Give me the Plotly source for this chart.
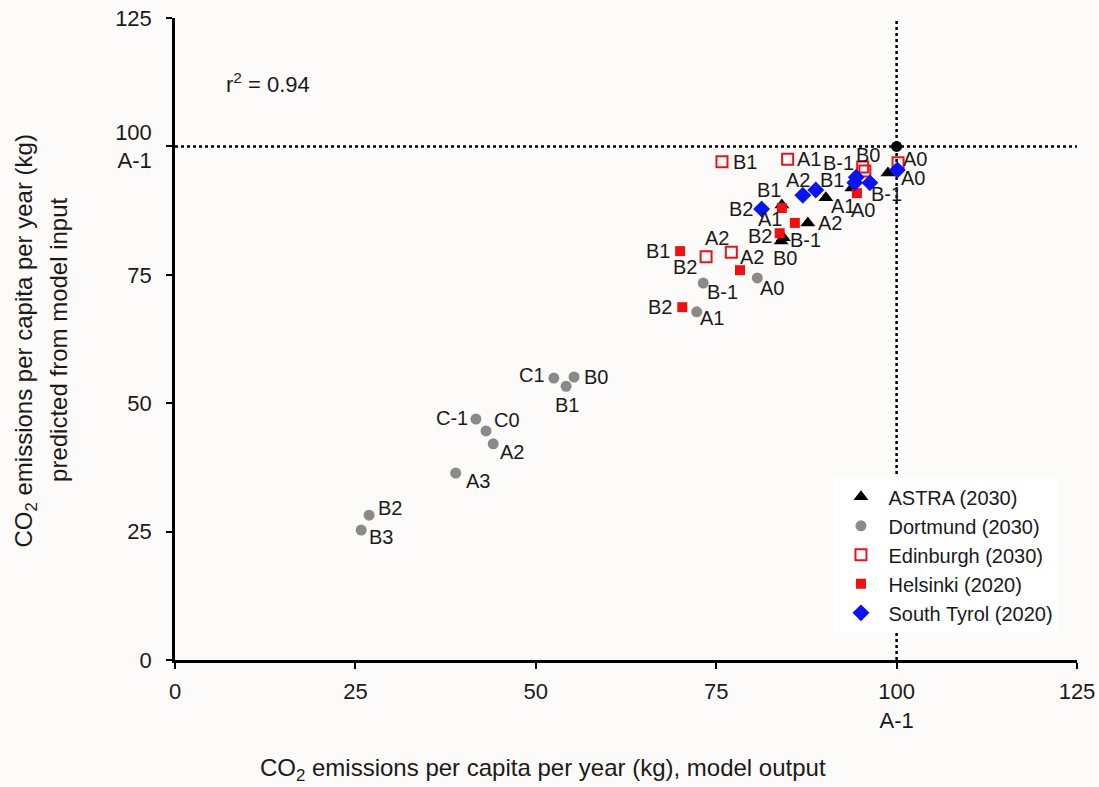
import plotly.graph_objects as go

# ---------------- data ----------------
astra_labels = ["A0", "A1", "A2", "B1", "B-1", "B0", ""]
astra_x = [98.8, 90.2, 87.7, 84.1, 84.3, 84.0, 93.8]
astra_y = [94.8, 90.0, 85.1, 88.6, 82.2, 81.6, 91.9]

dortmund_labels = ["B3", "B2", "A3", "C-1", "C0", "A2", "C1", "B0", "B1", "B-1", "A0", "A1"]
dortmund_x = [25.8, 26.9, 38.9, 41.7, 43.1, 44.1, 52.5, 55.3, 54.2, 73.2, 80.7, 72.3]
dortmund_y = [25.3, 28.2, 36.4, 46.9, 44.6, 42.1, 54.9, 55.1, 53.3, 73.4, 74.4, 67.8]

edinburgh_labels = ["B1", "A1", "B0", "B-1", "A0", "B2", "A2"]
edinburgh_x = [75.8, 84.9, 95.3, 95.6, 100.2, 73.6, 77.1]
edinburgh_y = [97.0, 97.5, 96.0, 95.2, 96.8, 78.5, 79.4]

helsinki_labels = ["B2", "B1", "A2", "B2", "A1", "", "A0"]
helsinki_x = [70.3, 70.0, 78.3, 83.8, 84.1, 85.9, 94.5]
helsinki_y = [68.7, 79.6, 75.9, 83.1, 88.0, 85.1, 90.9]

tyrol_labels = ["B2", "A2", "B1", "", "", "B-1", ""]
tyrol_x = [81.3, 87.0, 88.8, 94.4, 94.2, 96.3, 100.1]
tyrol_y = [87.8, 90.5, 91.5, 94.0, 92.9, 92.9, 95.4]

# reference scenario A-1 (100 % on both axes)
ref_label = "A-1"
ref_x = [100.0]
ref_y = [100.0]

tick_vals = [0, 25, 50, 75, 100, 125]
x_tick_text = ["0", "25", "50", "75", "100<br>A-1", "125"]
y_tick_text = ["0", "25", "50", "75", "100<br>A-1", "125"]
r_squared = 0.94

# ---------------- label placement (screen px: dx right, dy down) ----------------
offsets = {
    "ASTRA": [(25, 5), (17, 8), (22, 0), (-13, -15), (22, 2), (4, 17), (0, 0)],
    "Dortmund": [(20, 7), (21, -7), (22, 8), (-24, -1), (21, -11), (19, 8),
                 (-22, -3), (22, 0), (1, 19), (19, 9), (15, 10), (15, 6)],
    "Edinburgh": [(23, 0), (21, 0), (5, -12), (-26, -8), (17, -4), (-21, 10), (-14, -14)],
    "Helsinki": [(-22, 0), (-22, 0), (12, -13), (-20, 3), (-12, 11), (0, 0), (6, 17)],
    "Tyrol": [(-21, 0), (-5, -15), (16, -10), (0, 0), (0, 0), (17, 11), (0, 0)],
}

FONT = "Liberation Sans, Arial, Helvetica, sans-serif"
TXT = "#1a1a1a"
BG = "#fdfbf9"

fig = go.Figure()

series = [
    ("ASTRA (2030)", "ASTRA", astra_x, astra_y, astra_labels,
     dict(symbol="triangle-up", size=13, color="black")),
    ("Dortmund (2030)", "Dortmund", dortmund_x, dortmund_y, dortmund_labels,
     dict(symbol="circle", size=11, color="#8a8a8a")),
    ("Edinburgh (2030)", "Edinburgh", edinburgh_x, edinburgh_y, edinburgh_labels,
     dict(symbol="square-open", size=11, color="#e8141c", line=dict(width=2, color="#e8141c"))),
    ("Helsinki (2020)", "Helsinki", helsinki_x, helsinki_y, helsinki_labels,
     dict(symbol="square", size=10, color="#f01010")),
    ("South Tyrol (2020)", "Tyrol", tyrol_x, tyrol_y, tyrol_labels,
     dict(symbol="diamond", size=13, color="#0a14f0")),
]

for name, key, xs, ys, labels, marker in series:
    fig.add_trace(go.Scatter(
        x=xs, y=ys, mode="markers", name=name, marker=marker,
        hovertext=labels, hoverinfo="text+x+y",
    ))

fig.add_trace(go.Scatter(
    x=ref_x, y=ref_y, mode="markers", showlegend=False,
    marker=dict(symbol="circle", size=11, color="black"), hovertext=[ref_label],
))

annotations = []
for name, key, xs, ys, labels, marker in series:
    for (xv, yv, lab, (dx, dy)) in zip(xs, ys, labels, offsets[key]):
        if not lab:
            continue
        annotations.append(dict(
            x=xv, y=yv, xref="x", yref="y", text=lab, showarrow=False,
            xshift=dx, yshift=-dy, xanchor="center", yanchor="middle",
            font=dict(family=FONT, size=20, color=TXT),
        ))

# r squared note
annotations.append(dict(
    x=0.054, y=0.899, xref="paper", yref="paper", xanchor="left", yanchor="middle",
    text=f"r<sup>2</sup> = {r_squared:.2f}", showarrow=False,
    font=dict(family=FONT, size=22, color=TXT),
))

# axis titles
annotations.append(dict(
    x=0.408, y=-0.171, xref="paper", yref="paper", xanchor="center", yanchor="middle",
    text="CO<sub>2</sub> emissions per capita per year (kg), model output", showarrow=False,
    font=dict(family=FONT, size=24, color=TXT),
))
annotations.append(dict(
    x=-0.166, y=0.498, xref="paper", yref="paper", xanchor="center", yanchor="middle",
    text="CO<sub>2</sub> emissions per capita per year (kg)", showarrow=False, textangle=-90,
    font=dict(family=FONT, size=24, color=TXT),
))
annotations.append(dict(
    x=-0.129, y=0.498, xref="paper", yref="paper", xanchor="center", yanchor="middle",
    text="predicted from model input", showarrow=False, textangle=-90,
    font=dict(family=FONT, size=24, color=TXT),
))

# dotted reference lines through A-1
shapes = [
    dict(type="line", xref="x", yref="y", x0=0, x1=125, y0=ref_y[0], y1=ref_y[0],
         line=dict(color="black", width=2.5, dash="dot"), layer="below"),
    dict(type="line", xref="x", yref="y", x0=ref_x[0], x1=ref_x[0], y0=0, y1=125,
         line=dict(color="black", width=2.5, dash="dot"), layer="below"),
]

axis_common = dict(
    range=[0, 125], tickvals=tick_vals, showgrid=False, zeroline=False,
    showline=True, linecolor="black", linewidth=2.5, automargin=False,
    ticks="outside", ticklen=6, tickwidth=2, tickcolor="black",
    tickfont=dict(family=FONT, size=22, color=TXT),
)

fig.update_layout(
    width=1099, height=787,
    margin=dict(l=175, r=22, t=18, b=127),
    paper_bgcolor=BG, plot_bgcolor=BG,
    xaxis=dict(**axis_common, ticktext=x_tick_text, ticklabelstandoff=4),
    yaxis=dict(**axis_common, ticktext=y_tick_text, ticklabelstandoff=10),
    showlegend=True,
    legend=dict(
        x=0.73, y=0.2845, xanchor="left", yanchor="top",
        bgcolor="white", borderwidth=0, itemwidth=45,
        font=dict(family=FONT, size=20, color=TXT),
        tracegroupgap=0,
    ),
    annotations=annotations,
    shapes=shapes,
)

fig.write_html("out.html")
